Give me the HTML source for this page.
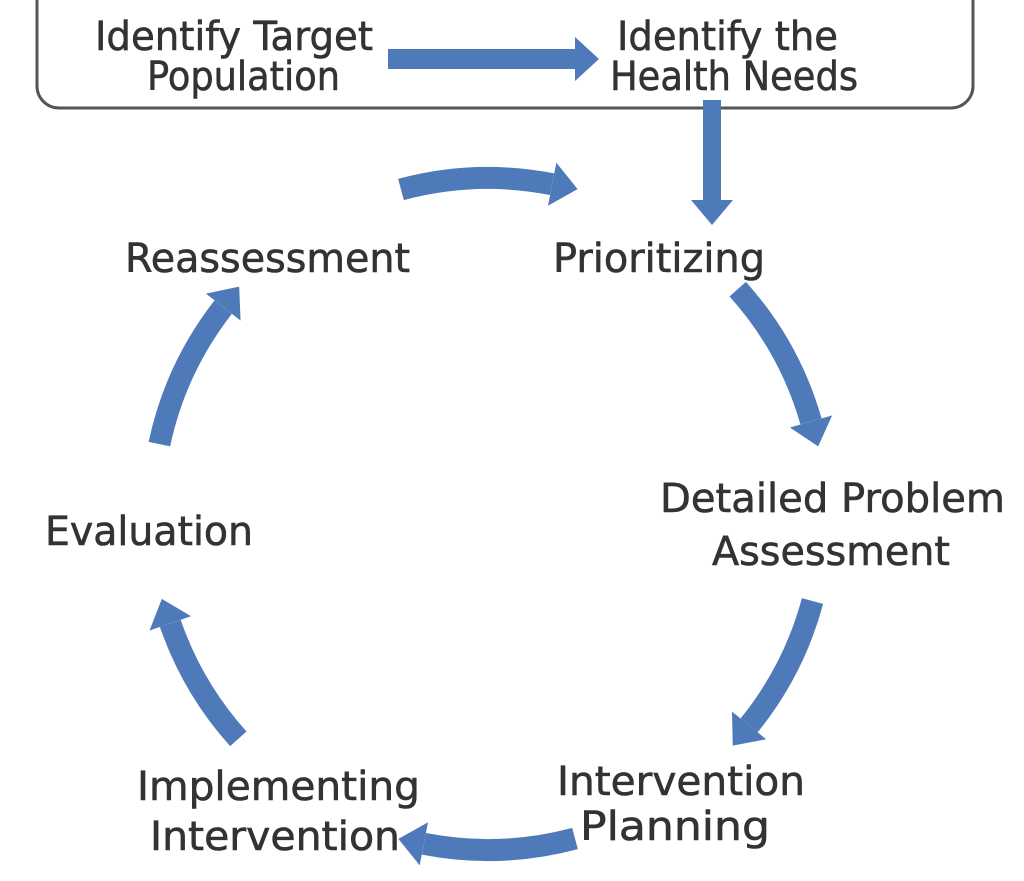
<!DOCTYPE html>
<html><head><meta charset="utf-8"><style>
html,body{margin:0;padding:0;background:#fff;width:1024px;height:881px;overflow:hidden}
text{font-family:"DejaVu Sans","Liberation Sans",sans-serif;font-size:40px;fill:#333;stroke:#333;stroke-width:0.6}
</style></head><body>
<svg width="1024" height="881" viewBox="0 0 1024 881" xmlns="http://www.w3.org/2000/svg">
<defs>
<marker id="h" viewBox="0 -24 28 48" markerUnits="userSpaceOnUse" markerWidth="28" markerHeight="48" refX="0" refY="0" orient="auto">
<path d="M0,-22 L26,0 L0,22 z" fill="#4e7ab9"/>
</marker>
</defs>
<rect x="37" y="-30" width="936" height="138" rx="22" fill="#fff" stroke="#555" stroke-width="3"/>
<g fill="#4e7ab9">
<rect x="388" y="49" width="190" height="20"/>
<path d="M575,37 L599,59 L575,81 z"/>
<rect x="703" y="100" width="18" height="102"/>
<path d="M691,200 L712,225 L733,200 z"/>
</g>
<g fill="none" stroke="#4e7ab9" stroke-width="22" marker-end="url(#h)">
<path d="M401,189.5 A336,336 0 0 1 552.1,184.2"/>
<path d="M737.7,289.2 A336,336 0 0 1 811,421.4"/>
<path d="M812.5,601 A336,336 0 0 1 749.1,725.4"/>
<path d="M575,838.5 A336,336 0 0 1 423.9,843.8"/>
<path d="M238.3,738.8 A336,336 0 0 1 170.3,623.4"/>
<path d="M159.4,444.1 A336,336 0 0 1 223.2,307.1"/>
</g>
<g lengthAdjust="spacingAndGlyphs">
<text x="95" y="50" textLength="278" lengthAdjust="spacingAndGlyphs">Identify Target</text>
<text x="147" y="90" textLength="193" lengthAdjust="spacingAndGlyphs">Population</text>
<text x="617" y="50" textLength="221" lengthAdjust="spacingAndGlyphs">Identify the</text>
<text x="610" y="90" textLength="248" lengthAdjust="spacingAndGlyphs">Health Needs</text>
<text x="125" y="272" textLength="285" lengthAdjust="spacingAndGlyphs">Reassessment</text>
<text x="553" y="272" textLength="212" lengthAdjust="spacingAndGlyphs">Prioritizing</text>
<text x="660" y="512" textLength="345" lengthAdjust="spacingAndGlyphs">Detailed Problem</text>
<text x="712" y="565" textLength="238" lengthAdjust="spacingAndGlyphs">Assessment</text>
<text x="45" y="545" textLength="208" lengthAdjust="spacingAndGlyphs">Evaluation</text>
<text x="557" y="795" textLength="248" lengthAdjust="spacingAndGlyphs">Intervention</text>
<text x="580" y="840" textLength="190" lengthAdjust="spacingAndGlyphs">Planning</text>
<text x="137" y="800" textLength="283" lengthAdjust="spacingAndGlyphs">Implementing</text>
<text x="150" y="850" textLength="250" lengthAdjust="spacingAndGlyphs">Intervention</text>
</g>
</svg>
</body></html>
